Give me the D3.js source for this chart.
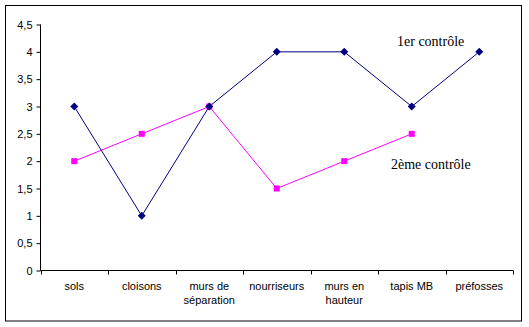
<!DOCTYPE html>
<html><head><meta charset="utf-8">
<script src="https://cdn.jsdelivr.net/npm/d3@7"></script>
<style>body{margin:0;background:#fff}svg{display:block}</style>
</head><body>
<script>
const categories = [["sols"],["cloisons"],["murs de","séparation"],["nourriseurs"],["murs en","hauteur"],["tapis MB"],["préfosses"]];
const serie1 = [3,1,3,4,4,3,4];
const serie2 = [2,2.5,3,1.5,2,2.5,null];
const yTicks = [0,0.5,1,1.5,2,2.5,3,3.5,4,4.5];
const labels = ["1er contrôle","2ème contrôle"];

const W=529,H=327;
const svg=d3.select("body").append("svg").attr("width",W).attr("height",H);
svg.append("rect").attr("x",5.5).attr("y",5.5).attr("width",516).attr("height",315.5)
  .attr("fill","#fff").attr("stroke","#000").attr("stroke-width",1);

const x0=40.5,x1=513,y0=270.5,y1=24.5;
const xb=d3.scaleBand().domain(d3.range(categories.length)).range([x0,x1]);
const y=d3.scaleLinear().domain([0,4.5]).range([y0,y1]);
const font="'Liberation Sans', Arial, sans-serif";

// y axis
const ya=svg.append("g").attr("transform",`translate(${x0},0)`)
  .call(d3.axisLeft(y).tickValues(yTicks).tickSize(4).tickPadding(4)
    .tickFormat(d=>String(d).replace(".",",")));
ya.selectAll("text").attr("font-family",font).attr("font-size",11).attr("fill","#000");
ya.selectAll("line,path").attr("stroke","#000");
ya.select(".domain").attr("d",`M0,${y0}V${y1}`);

// x axis
const xg=svg.append("g").attr("transform",`translate(0,${y0})`);
xg.append("line").attr("x1",x0).attr("x2",x1).attr("stroke","#000");
const bounds=d3.range(categories.length+1).map(i=>i<categories.length?xb(i):xb(categories.length-1)+xb.bandwidth());
xg.selectAll(".tk").data(bounds).join("line").attr("x1",d=>Math.round(d)+0.5).attr("x2",d=>Math.round(d)+0.5)
  .attr("y1",0).attr("y2",4).attr("stroke","#000");
categories.forEach((c,i)=>{
  const t=xg.append("text").attr("x",xb(i)+xb.bandwidth()/2).attr("y",19)
    .attr("text-anchor","middle").attr("font-family",font).attr("font-size",11).attr("fill","#000");
  c.forEach((s,j)=>t.append("tspan").attr("x",xb(i)+xb.bandwidth()/2).attr("dy",j?14:0).text(s));
});

const cx=i=>xb(i)+xb.bandwidth()/2;
const line=d3.line().defined(d=>d!=null).x((d,i)=>cx(i)).y(d=>y(d));
svg.append("path").datum(serie2).attr("d",line).attr("fill","none").attr("stroke","#ff00ff").attr("stroke-width",1);
svg.append("path").datum(serie1).attr("d",line).attr("fill","none").attr("stroke","#000080").attr("stroke-width",1);

svg.selectAll(".sq").data(serie2.map((v,i)=>[v,i]).filter(d=>d[0]!=null)).join("rect")
  .attr("x",d=>cx(d[1])-3).attr("y",d=>y(d[0])-3).attr("width",6).attr("height",6).attr("fill","#ff00ff");
svg.selectAll(".dm").data(serie1.map((v,i)=>[v,i])).join("path")
  .attr("d",d=>{const X=cx(d[1]),Y=y(d[0]);return `M${X},${Y-4}L${X+4},${Y}L${X},${Y+4}L${X-4},${Y}Z`;})
  .attr("fill","#000080");

const serif="'Liberation Serif','Times New Roman',serif";
svg.append("text").attr("x",397).attr("y",46).attr("font-family",serif).attr("font-size",14).text(labels[0]);
svg.append("text").attr("x",391).attr("y",169).attr("font-family",serif).attr("font-size",14).text(labels[1]);
</script>
</body></html>
